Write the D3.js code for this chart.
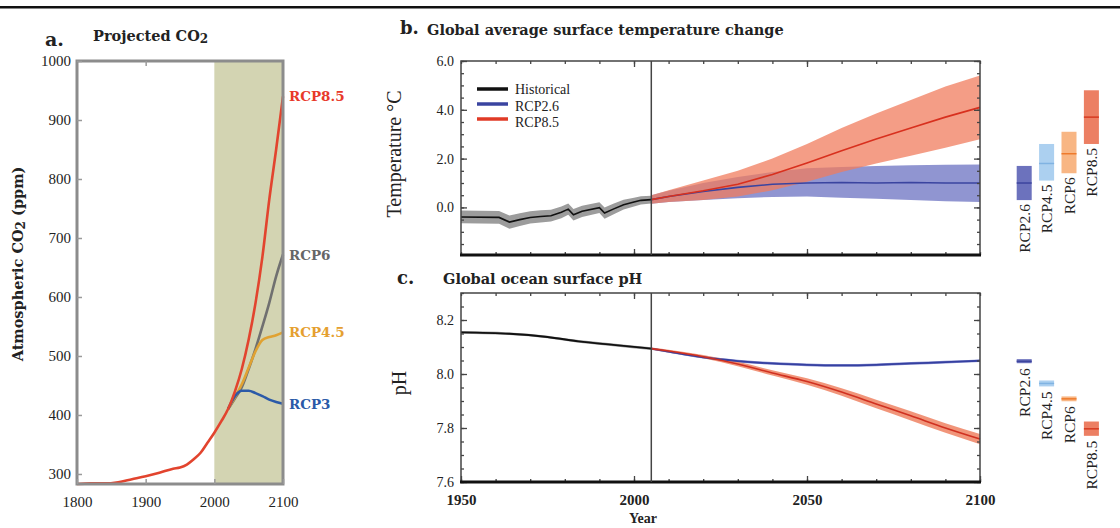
<!DOCTYPE html>
<html>
<head>
<meta charset="utf-8">
<script src="https://cdn.jsdelivr.net/npm/d3@7"></script>
<style>
  body { margin: 0; background: #fff; }
  svg text { font-family: "Liberation Serif", serif; fill: #222; }
  svg text.bold { font-family: "DejaVu Serif", serif; font-weight: bold; }
</style>
</head>
<body>
<svg id="chart" width="1120" height="528"></svg>
<script>
// ---- panel a: atmospheric CO2 (ppm) ----
var co2Years = [1800, 1820, 1840, 1860, 1880, 1900, 1920, 1940, 1950, 1960, 1970, 1980, 1990, 2000, 2010, 2020];
var co2Hist  = [283, 284, 284, 286, 291, 296, 302, 309, 311, 316, 325, 336, 353, 370, 389, 410];
var projYears = [2020, 2030, 2040, 2050, 2060, 2070, 2080, 2090, 2100];
var rcp85Co2 = [410, 440, 478, 528, 590, 668, 765, 850, 940];
var rcp6Co2  = [410, 428, 447, 478, 512, 550, 590, 635, 672];
var rcp45Co2 = [410, 430, 452, 480, 508, 527, 532, 535, 540];
var rcp3Co2  = [410, 432, 441, 441, 437, 432, 426, 422, 419];

// ---- panel b: temperature change (deg C) ----
var histTYears  = [1950, 1961, 1964, 1967, 1970, 1973, 1976, 1979, 1981, 1982.5, 1985, 1990, 1991.5, 1994, 1997, 2000, 2002, 2005];
var histT       = [-0.39, -0.41, -0.6, -0.5, -0.41, -0.37, -0.34, -0.2, -0.07, -0.3, -0.16, -0.01, -0.23, -0.07, 0.11, 0.22, 0.29, 0.32];
var histTSpread = [0.26, 0.26, 0.27, 0.26, 0.25, 0.25, 0.24, 0.24, 0.23, 0.24, 0.23, 0.22, 0.23, 0.22, 0.2, 0.18, 0.17, 0.16];
var projTYears = [2005, 2010, 2020, 2030, 2040, 2050, 2060, 2070, 2080, 2090, 2100];
var rcp26T   = [0.32, 0.45, 0.65, 0.82, 0.95, 1.0, 1.02, 1.0, 1.02, 1.0, 1.0];
var rcp26TLo = [0.15, 0.22, 0.3, 0.38, 0.43, 0.45, 0.4, 0.35, 0.3, 0.25, 0.22];
var rcp26THi = [0.5, 0.68, 1.0, 1.25, 1.45, 1.6, 1.66, 1.7, 1.73, 1.75, 1.76];
var rcp85T   = [0.32, 0.45, 0.68, 0.95, 1.35, 1.82, 2.32, 2.8, 3.25, 3.7, 4.1];
var rcp85TLo = [0.15, 0.22, 0.3, 0.45, 0.7, 1.05, 1.45, 1.8, 2.12, 2.45, 2.79];
var rcp85THi = [0.5, 0.7, 1.1, 1.5, 2.0, 2.6, 3.25, 3.85, 4.4, 4.95, 5.41];

// ---- panel c: surface pH ----
var histPhYears  = [1950, 1964, 1975, 1984, 1994, 2005];
var histPh       = [8.154, 8.149, 8.137, 8.121, 8.108, 8.094];
var projPhYears  = [2005, 2010, 2020, 2030, 2040, 2050, 2060, 2070, 2080, 2090, 2100];
var rcp26Ph      = [8.094, 8.083, 8.062, 8.048, 8.039, 8.034, 8.032, 8.034, 8.039, 8.044, 8.049];
var rcp26PhSpread = [0.004, 0.004, 0.005, 0.005, 0.005, 0.005, 0.005, 0.005, 0.005, 0.005, 0.005];
var rcp85Ph      = [8.094, 8.085, 8.064, 8.037, 8.004, 7.972, 7.933, 7.889, 7.845, 7.800, 7.759];
var rcp85PhSpread = [0.004, 0.005, 0.006, 0.008, 0.01, 0.012, 0.014, 0.016, 0.017, 0.018, 0.019];

// ---- end-of-century ranges (side bars) ----
var scenarios = ["RCP2.6", "RCP4.5", "RCP6", "RCP8.5"];
var tempMean = [1.0, 1.8, 2.2, 3.7];
var tempLow  = [0.3, 1.1, 1.4, 2.6];
var tempHigh = [1.7, 2.6, 3.1, 4.8];
var phMean = [8.047, 7.965, 7.908, 7.797];
var phLow  = [8.040, 7.954, 7.899, 7.771];
var phHigh = [8.055, 7.976, 7.917, 7.824];

var legendNames = ["Historical", "RCP2.6", "RCP8.5"];

var barFill = ["#6c72bd", "#acd0f0", "#f8b684", "#ec7f63"];
var barLine = ["#3c449e", "#80b3e2", "#ee7a2c", "#d63a20"];

var svg = d3.select("#chart");

// rule across the top
svg.append("rect").attr("x", 0).attr("y", 6).attr("width", 1120).attr("height", 2.5).attr("fill", "#111");

function zip(xs, ys) { return xs.map(function (d, i) { return [d, ys[i]]; }); }

/*
 * Panel a - projected CO2
 */
var xA = d3.scaleLinear().domain([1800, 2100]).range([77, 283]);
var yA = d3.scaleLinear().domain([283, 1000]).range([484, 61]);
var gA = svg.append("g");

gA.append("rect")
    .attr("x", xA(2000)).attr("y", yA(1000))
    .attr("width", xA(2100) - xA(2000)).attr("height", yA(283) - yA(1000))
    .attr("fill", "#d3d4b2");

var lineA = d3.line().x(function (d) { return xA(d[0]); }).y(function (d) { return yA(d[1]); }).curve(d3.curveMonotoneX);

var co2Series = [
    { name: "RCP6", values: zip(projYears, rcp6Co2), color: "#707070", label: "#666666" },
    { name: "RCP4.5", values: zip(projYears, rcp45Co2), color: "#e0a232", label: "#e5a030" },
    { name: "RCP3", values: zip(projYears, rcp3Co2), color: "#2b5aa8", label: "#2a5aa8" },
    { name: "RCP8.5", values: zip(co2Years, co2Hist).concat(zip(projYears, rcp85Co2).slice(1)), color: "#e2442e", label: "#e8392a" }
];

gA.selectAll("path.co2")
    .data(co2Series)
    .enter()
    .append("path")
    .attr("class", "co2")
    .attr("d", function (d) { return lineA(d.values); })
    .attr("fill", "none")
    .attr("stroke", function (d) { return d.color; })
    .attr("stroke-width", 2.6);

gA.selectAll("text.co2lab")
    .data(co2Series)
    .enter()
    .append("text")
    .attr("class", "bold co2lab")
    .attr("x", 289)
    .attr("y", function (d) { return yA(d.values[d.values.length - 1][1]) + 5; })
    .style("font-size", "13.5px")
    .style("fill", function (d) { return d.label; })
    .text(function (d) { return d.name; });

// frame and ticks
gA.append("rect")
    .attr("x", xA(1800)).attr("y", yA(1000))
    .attr("width", xA(2100) - xA(1800)).attr("height", yA(283) - yA(1000))
    .attr("fill", "none").attr("stroke", "#8c8c8c").attr("stroke-width", 3);

var axA = gA.append("g").attr("transform", "translate(" + xA(1800) + ",0)")
    .call(d3.axisLeft(yA).tickValues([300, 400, 500, 600, 700, 800, 900, 1000]).tickSize(-5).tickPadding(6).tickFormat(d3.format("d")));
var axAb = gA.append("g").attr("transform", "translate(0," + yA(283) + ")")
    .call(d3.axisBottom(xA).tickValues([1800, 1900, 2000, 2100]).tickSize(-5).tickPadding(12).tickFormat(d3.format("d")));
var axAt = gA.append("g").attr("transform", "translate(0," + yA(1000) + ")")
    .call(d3.axisTop(xA).tickValues([1900]).tickSize(-5).tickFormat(""));
[axA, axAb, axAt].forEach(function (ax) {
    ax.select(".domain").remove();
    ax.selectAll("line").attr("stroke", "#9a9a9a").attr("stroke-width", 1.5);
    ax.selectAll("text").style("font-size", "15px").style("font-family", "'Liberation Serif', serif").style("fill", "#222");
});

gA.append("text").attr("class", "bold").attr("x", 45).attr("y", 46).style("font-size", "19px").text("a.");
var tA = gA.append("text").attr("class", "bold").attr("x", 93).attr("y", 41).style("font-size", "14.5px");
tA.append("tspan").text("Projected CO");
tA.append("tspan").attr("dy", 2).style("font-size", "12px").text("2");

var labA = gA.append("text").attr("class", "bold")
    .attr("transform", "translate(23," + 264 + ") rotate(-90)")
    .style("text-anchor", "middle").style("font-size", "14.5px");
labA.append("tspan").text("Atmospheric CO");
labA.append("tspan").attr("dy", 2).style("font-size", "12px").text("2");
labA.append("tspan").attr("dy", -2).text(" (ppm)");

/*
 * Shared x scale for panels b and c
 */
var x = d3.scaleLinear().domain([1950, 2100]).range([461, 980]);

function drawFrame(g, y, top, bottom, majorY, minorY, showYears) {
    // inward ticks on all four sides
    var left = g.append("g").attr("transform", "translate(" + x(1950) + ",0)")
        .call(d3.axisLeft(y).tickValues(majorY).tickSize(-6).tickPadding(7).tickFormat(d3.format(".1f")));
    var leftMinor = g.append("g").attr("transform", "translate(" + x(1950) + ",0)")
        .call(d3.axisLeft(y).tickValues(minorY).tickSize(-3).tickFormat(""));
    var right = g.append("g").attr("transform", "translate(" + x(2100) + ",0)")
        .call(d3.axisRight(y).tickValues(majorY).tickSize(-6).tickFormat(""));
    var rightMinor = g.append("g").attr("transform", "translate(" + x(2100) + ",0)")
        .call(d3.axisRight(y).tickValues(minorY).tickSize(-3).tickFormat(""));
    var topMinor = g.append("g").attr("transform", "translate(0," + top + ")")
        .call(d3.axisTop(x).ticks(15).tickSize(-3).tickFormat(""));
    var topMajor = g.append("g").attr("transform", "translate(0," + top + ")")
        .call(d3.axisTop(x).tickValues([2000, 2050]).tickSize(-6).tickFormat(""));
    var botMinor = g.append("g").attr("transform", "translate(0," + bottom + ")")
        .call(d3.axisBottom(x).ticks(15).tickSize(-3).tickFormat(""));
    var botMajor = g.append("g").attr("transform", "translate(0," + bottom + ")")
        .call(d3.axisBottom(x).tickValues(showYears ? [1950, 2000, 2050, 2100] : [2000, 2050])
            .tickSize(-6).tickPadding(12).tickFormat(showYears ? d3.format("d") : ""));
    [left, leftMinor, right, rightMinor, topMinor, topMajor, botMinor, botMajor].forEach(function (ax) {
        ax.select(".domain").remove();
        ax.selectAll("line").attr("stroke", "#444").attr("stroke-width", 1.3);
    });
    left.selectAll("text").style("font-size", "14px").style("font-family", "'Liberation Serif', serif").style("fill", "#222");
    botMajor.selectAll("text").style("font-size", "15px").style("font-weight", "bold")
        .style("font-family", "'Liberation Serif', serif").style("fill", "#222");

    // frame: thin top/left/right, heavy bottom
    g.append("path")
        .attr("d", "M" + x(1950) + "," + bottom + "V" + top + "H" + x(2100) + "V" + bottom)
        .attr("fill", "none").attr("stroke", "#444").attr("stroke-width", 1.5);
    g.append("line")
        .attr("x1", x(1950) - 1).attr("x2", x(2100) + 1).attr("y1", bottom).attr("y2", bottom)
        .attr("stroke", "#111").attr("stroke-width", 3);
    // start of projections
    g.append("line")
        .attr("x1", x(2005)).attr("x2", x(2005)).attr("y1", top).attr("y2", bottom)
        .attr("stroke", "#444").attr("stroke-width", 1.5);
}

function drawBars(g, y, lows, highs, means, gap) {
    var xb = d3.scaleBand().domain(scenarios).range([1013, 1102.6]).paddingInner(0.33).paddingOuter(0.165);
    g.selectAll("rect.bar")
        .data(scenarios)
        .enter()
        .append("rect")
        .attr("class", "bar")
        .attr("x", function (d) { return xb(d); })
        .attr("width", xb.bandwidth())
        .attr("y", function (d, i) { return y(highs[i]); })
        .attr("height", function (d, i) { return y(lows[i]) - y(highs[i]); })
        .attr("fill", function (d, i) { return barFill[i]; });
    g.selectAll("line.barmean")
        .data(scenarios)
        .enter()
        .append("line")
        .attr("class", "barmean")
        .attr("x1", function (d) { return xb(d); })
        .attr("x2", function (d) { return xb(d) + xb.bandwidth(); })
        .attr("y1", function (d, i) { return y(means[i]); })
        .attr("y2", function (d, i) { return y(means[i]); })
        .attr("stroke", function (d, i) { return barLine[i]; })
        .attr("stroke-width", 1.5);
    g.selectAll("text.barlab")
        .data(scenarios)
        .enter()
        .append("text")
        .attr("class", "barlab")
        .attr("transform", function (d, i) {
            return "translate(" + (xb(d) + xb.bandwidth() / 2 + 5.5) + "," + (y(lows[i]) + gap) + ") rotate(-90)";
        })
        .style("text-anchor", "end")
        .style("font-size", "15.5px")
        .text(function (d) { return d; });
}

/*
 * Panel b - temperature
 */
var yB = d3.scaleLinear().domain([-1.95, 6]).range([255, 61]);
var gB = svg.append("g");

function bandB(xs, lo, hi) {
    return d3.area().x(function (d, i) { return x(xs[i]); })
        .y0(function (d, i) { return yB(lo[i]); })
        .y1(function (d, i) { return yB(hi[i]); })(xs);
}
function lineB(xs, ys) {
    return d3.line().x(function (d, i) { return x(xs[i]); }).y(function (d, i) { return yB(ys[i]); })(xs);
}

gB.append("path")
    .attr("d", bandB(histTYears, histT.map(function (v, i) { return v - histTSpread[i]; }),
        histT.map(function (v, i) { return v + histTSpread[i]; })))
    .attr("fill", "#9c9c9c");
gB.append("path").attr("d", bandB(projTYears, rcp26TLo, rcp26THi)).attr("fill", "#7d83c9").attr("fill-opacity", 0.85);
gB.append("path").attr("d", bandB(projTYears, rcp85TLo, rcp85THi)).attr("fill", "#f07c5e").attr("fill-opacity", 0.75);
gB.append("path").attr("d", lineB(histTYears, histT)).attr("fill", "none").attr("stroke", "#111").attr("stroke-width", 1.6);
gB.append("path").attr("d", lineB(projTYears, rcp26T)).attr("fill", "none").attr("stroke", "#3a44a0").attr("stroke-width", 1.6);
gB.append("path").attr("d", lineB(projTYears, rcp85T)).attr("fill", "none").attr("stroke", "#d8301e").attr("stroke-width", 1.6);

drawFrame(gB, yB, 61, 255, [0, 2, 4, 6], yB.ticks(16), false);
drawBars(gB, yB, tempLow, tempHigh, tempMean, 4);

// legend
var legColors = ["#111", "#3a44a0", "#e03a26"];
var leg = gB.selectAll("g.leg")
    .data(legendNames)
    .enter()
    .append("g")
    .attr("class", "leg")
    .attr("transform", function (d, i) { return "translate(477," + (89 + i * 15) + ")"; });
leg.append("line").attr("x1", 0).attr("x2", 31).attr("stroke", function (d, i) { return legColors[i]; }).attr("stroke-width", 3.5);
leg.append("text").attr("x", 38).attr("y", function (d, i) { return 5 + i * 1.5; }).style("font-size", "14px").text(function (d) { return d; });

gB.append("text").attr("class", "bold").attr("x", 400).attr("y", 34).style("font-size", "18px").text("b.");
gB.append("text").attr("class", "bold").attr("x", 427).attr("y", 35).style("font-size", "14.5px").text("Global average surface temperature change");
gB.append("text").attr("transform", "translate(401,154) rotate(-90)").style("text-anchor", "middle").style("font-size", "20px").text("Temperature °C");

/*
 * Panel c - ocean pH
 */
var yC = d3.scaleLinear().domain([7.6, 8.3]).range([482, 293]);
var gC = svg.append("g");

function bandC(xs, ys, sp) {
    return d3.area().x(function (d, i) { return x(xs[i]); })
        .y0(function (d, i) { return yC(ys[i] - sp[i]); })
        .y1(function (d, i) { return yC(ys[i] + sp[i]); })
        .curve(d3.curveMonotoneX)(xs);
}
function lineC(xs, ys) {
    return d3.line().x(function (d, i) { return x(xs[i]); }).y(function (d, i) { return yC(ys[i]); }).curve(d3.curveMonotoneX)(xs);
}

gC.append("path").attr("d", bandC(histPhYears, histPh, histPh.map(function () { return 0.005; }))).attr("fill", "#9c9c9c");
gC.append("path").attr("d", bandC(projPhYears, rcp26Ph, rcp26PhSpread)).attr("fill", "#8a90d2");
gC.append("path").attr("d", bandC(projPhYears, rcp85Ph, rcp85PhSpread)).attr("fill", "#f08a6c").attr("fill-opacity", 0.9);
gC.append("path").attr("d", lineC(histPhYears, histPh)).attr("fill", "none").attr("stroke", "#111").attr("stroke-width", 1.8);
gC.append("path").attr("d", lineC(projPhYears, rcp26Ph)).attr("fill", "none").attr("stroke", "#3540a0").attr("stroke-width", 1.8);
gC.append("path").attr("d", lineC(projPhYears, rcp85Ph)).attr("fill", "none").attr("stroke", "#d03020").attr("stroke-width", 1.6);

drawFrame(gC, yC, 293, 482, [7.6, 7.8, 8.0, 8.2], yC.ticks(14), true);
drawBars(gC, yC, phLow, phHigh, phMean, 5);

gC.append("text").attr("class", "bold").attr("x", 397).attr("y", 284).style("font-size", "18px").text("c.");
gC.append("text").attr("class", "bold").attr("x", 443).attr("y", 284).style("font-size", "14.5px").text("Global ocean surface pH");
gC.append("text").attr("transform", "translate(406,383) rotate(-90)").style("text-anchor", "middle").style("font-size", "20px").text("pH");
gC.append("text").attr("x", 643).attr("y", 523).style("text-anchor", "middle").style("font-size", "14px").style("font-weight", "bold").text("Year");
</script>
</body>
</html>
